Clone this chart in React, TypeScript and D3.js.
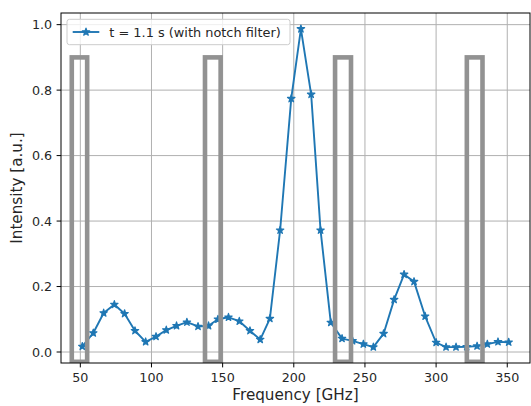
import React from "react";
import * as d3 from "d3";

const freqs = [51.4, 59.1, 66.4, 73.9, 81.1, 88.4, 95.9, 103.2, 110.4, 117.6, 124.9, 132.7, 140.1, 146.7, 154.1, 161.7, 169.2, 176.4, 183.2, 190.4, 198.2, 205.0, 212.2, 218.8, 226.0, 233.9, 241.3, 248.9, 255.9, 263.1, 270.5, 277.5, 284.5, 292.3, 300.0, 307.0, 314.0, 321.5, 328.8, 336.0, 343.5, 351.0];
const intensity = [0.017, 0.058, 0.119, 0.145, 0.117, 0.065, 0.031, 0.047, 0.067, 0.080, 0.091, 0.078, 0.080, 0.100, 0.106, 0.094, 0.065, 0.038, 0.102, 0.372, 0.774, 0.987, 0.787, 0.372, 0.090, 0.041, 0.034, 0.024, 0.015, 0.056, 0.160, 0.237, 0.215, 0.109, 0.029, 0.015, 0.015, 0.016, 0.018, 0.024, 0.031, 0.030];
const notchStart = [44.0, 137.6, 229.0, 321.6];
const notchEnd = [54.8, 148.6, 240.2, 332.6];
const notchTop = 0.9;
const notchBottom = -0.03;
const xTicks = [50, 100, 150, 200, 250, 300, 350];
const yTicks = [0.0, 0.2, 0.4, 0.6, 0.8, 1.0];
const legendLabel = "t = 1.1 s (with notch filter)";
const xLabel = "Frequency [GHz]";
const yLabel = "Intensity [a.u.]";

const W = 531;
const H = 406;
const L = 61, R = 530, T = 13, B = 363;
const FONT = "DejaVu Sans";
const BLUE = "#1f77b4";

function starPath(cx: number, cy: number, r: number): string {
  const ri = r * 0.381966;
  const pts: string[] = [];
  for (let i = 0; i < 10; i++) {
    const rr = i % 2 === 0 ? r : ri;
    const a = -Math.PI / 2 + (i * Math.PI) / 5;
    pts.push(`${(cx + rr * Math.cos(a)).toFixed(2)},${(cy + rr * Math.sin(a)).toFixed(2)}`);
  }
  return "M" + pts.join("L") + "Z";
}

export default function App() {
  const xmin = d3.min(freqs)!, xmax = d3.max(freqs)!;
  const ymin = d3.min(intensity)!, ymax = d3.max(intensity)!;
  const xp = (xmax - xmin) * 0.05, yp = (ymax - ymin) * 0.05;
  const x = d3.scaleLinear().domain([xmin - xp, xmax + xp]).range([L, R]);
  const y = d3.scaleLinear().domain([ymin - yp, ymax + yp]).range([B, T]);
  const pts = freqs.map((f, i) => [f, intensity[i]] as [number, number]);
  const line = d3.line<[number, number]>().x(d => x(d[0])).y(d => y(d[1]));

  return (
    <svg width={W} height={H} style={{ position: "absolute", left: 0, top: 0 }} fontFamily={FONT}>
      <rect x={0} y={0} width={W} height={H} fill="white" />
      <defs>
        <clipPath id="plotclip">
          <rect x={L} y={T} width={R - L} height={B - T} />
        </clipPath>
      </defs>
      {/* grid */}
      {xTicks.map(t => (
        <line key={"gx" + t} x1={x(t)} x2={x(t)} y1={T} y2={B} stroke="#b0b0b0" strokeWidth={1} />
      ))}
      {yTicks.map(t => (
        <line key={"gy" + t} x1={L} x2={R} y1={y(t)} y2={y(t)} stroke="#b0b0b0" strokeWidth={1} />
      ))}
      <g clipPath="url(#plotclip)">
        <path d={line(pts)!} fill="none" stroke={BLUE} strokeWidth={1.9} strokeLinejoin="round" />
        {pts.map((p, i) => (
          <path key={"m" + i} d={starPath(x(p[0]), y(p[1]), 3.9)} fill={BLUE} stroke={BLUE} strokeWidth={1.2} strokeLinejoin="round" />
        ))}
        {notchStart.map((s, i) => (
          <rect key={"n" + i} x={x(s)} y={y(notchTop)} width={x(notchEnd[i]) - x(s)} height={y(notchBottom) - y(notchTop)}
            fill="none" stroke="#929292" strokeWidth={4.6} />
        ))}
      </g>
      {/* spines */}
      <rect x={L} y={T} width={R - L} height={B - T} fill="none" stroke="black" strokeWidth={1} />
      {/* x ticks */}
      {xTicks.map(t => (
        <g key={"xt" + t}>
          <line x1={x(t)} x2={x(t)} y1={B} y2={B + 4.4} stroke="black" strokeWidth={1} />
          <text x={x(t)} y={382} fontSize={12.7} textAnchor="middle" fill="#262626">{t}</text>
        </g>
      ))}
      {yTicks.map(t => (
        <g key={"yt" + t}>
          <line x1={L - 4.4} x2={L} y1={y(t)} y2={y(t)} stroke="black" strokeWidth={1} />
          <text x={L - 8.8} y={y(t)} dy="0.36em" fontSize={12.7} textAnchor="end" fill="#262626">{t.toFixed(1)}</text>
        </g>
      ))}
      <text x={(L + R) / 2} y={399.5} fontSize={15.2} textAnchor="middle" fill="#262626">{xLabel}</text>
      <text transform={`translate(21.5, ${(T + B) / 2}) rotate(-90)`} fontSize={15.2} textAnchor="middle" fill="#262626">{yLabel}</text>
      {/* legend */}
      <rect x={67} y={19.3} width={223} height={25.4} rx={2.5} fill="white" fillOpacity={0.8} stroke="#cccccc" strokeWidth={1} />
      <line x1={72.7} x2={99.3} y1={32} y2={32} stroke={BLUE} strokeWidth={1.9} />
      <path d={starPath(86, 32, 3.9)} fill={BLUE} stroke={BLUE} strokeWidth={1.2} strokeLinejoin="round" />
      <text x={109.3} y={32} dy="0.36em" fontSize={12.9} fill="#262626">{legendLabel}</text>
    </svg>
  );
}
